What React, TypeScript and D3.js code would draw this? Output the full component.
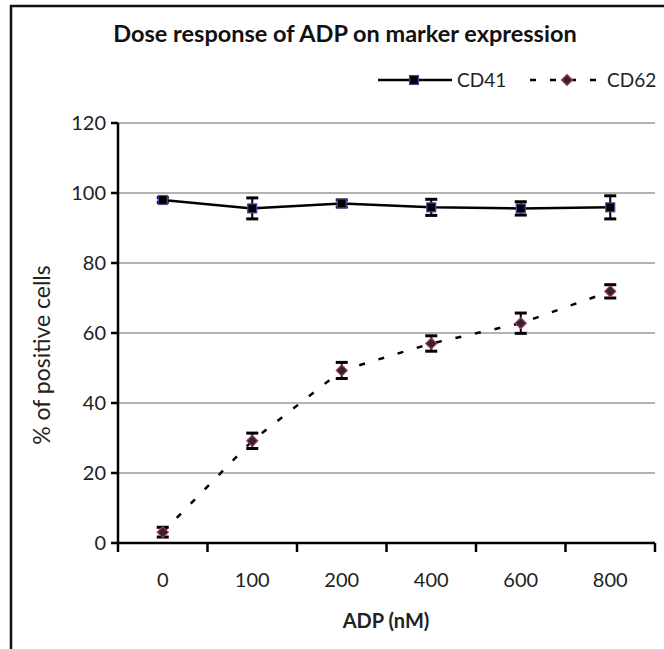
import React from "react";
import * as d3 from "d3";

const categories = ["0", "100", "200", "400", "600", "800"];
const cd41Values = [98.0, 95.6, 97.0, 95.9, 95.6, 95.9];
const cd41Errors = [0.7, 3.0, 1.0, 2.3, 1.9, 3.3];
const cd62Values = [3.1, 29.2, 49.3, 57.0, 62.8, 71.9];
const cd62Errors = [1.4, 2.2, 2.3, 2.2, 2.9, 1.9];
const yTicks = [0, 20, 40, 60, 80, 100, 120];
const title = "Dose response of ADP on marker expression";
const xTitle = "ADP (nM)";
const yTitle = "% of positive cells";
const seriesNames = ["CD41", "CD62"];

const W = 664;
const H = 649;
const FONT = "Lato, 'Open Sans', sans-serif";

export default function App() {
  const x = d3.scaleBand<string>().domain(categories).range([118, 655]).padding(0);
  const y = d3.scaleLinear().domain([0, 120]).range([543, 123]);
  const cx = (c: string) => (x(c) ?? 0) + x.bandwidth() / 2;

  const line = d3
    .line<number>()
    .x((_, i) => cx(categories[i]))
    .y((v) => y(v));

  const errBars = (vals: number[], errs: number[]) =>
    vals.map((v, i) => {
      const px = cx(categories[i]);
      const y1 = y(v + errs[i]);
      const y2 = y(v - errs[i]);
      return (
        <g key={i} stroke="#000">
          <line x1={px} x2={px} y1={y1} y2={y2} strokeWidth={2} />
          <line x1={px - 6} x2={px + 6} y1={y1} y2={y1} strokeWidth={3} />
          <line x1={px - 6} x2={px + 6} y1={y2} y2={y2} strokeWidth={3} />
        </g>
      );
    });

  const square = (px: number, py: number, k: string | number) => (
    <rect key={k} x={px - 4.5} y={py - 4.5} width={9} height={9} fill="#000" stroke="#4a4aa8" strokeWidth={1.2} />
  );
  const diamond = (px: number, py: number, k: string | number) => (
    <path
      key={k}
      d={`M${px},${py - 5.5}L${px + 5.5},${py}L${px},${py + 5.5}L${px - 5.5},${py}Z`}
      fill="#2a2a2a"
      stroke="#b03070"
      strokeWidth={1.2}
    />
  );

  const xTickPositions = [...categories.map((c) => x(c) ?? 0), 655];

  return (
    <svg
      width={W}
      height={H}
      style={{ position: "absolute", left: 0, top: 0, background: "#fff" }}
      fontFamily={FONT}
    >
      {/* frame */}
      <rect x={11} y={6} width={700} height={700} fill="none" stroke="#111" strokeWidth={2.5} />

      <text x={345} y={42} textAnchor="middle" fontSize={23.5} fontWeight="bold" fill="#111">
        {title}
      </text>

      {/* legend */}
      <g>
        <line x1={378} x2={452} y1={80} y2={80} stroke="#000" strokeWidth={2.5} />
        {square(414, 80, "l1")}
        <text x={457} y={87} fontSize={19} fill="#222">
          {seriesNames[0]}
        </text>
        <line x1={530} x2={604} y1={80} y2={80} stroke="#000" strokeWidth={2.5} strokeDasharray="6,14" />
        {diamond(567, 80, "l2")}
        <text x={607} y={87} fontSize={19} fill="#222">
          {seriesNames[1]}
        </text>
      </g>

      {/* gridlines */}
      {yTicks
        .filter((t) => t > 0)
        .map((t) => (
          <line key={t} x1={118} x2={655} y1={y(t)} y2={y(t)} stroke="#9a9a9a" strokeWidth={1.5} />
        ))}

      {/* y axis */}
      <line x1={118} x2={118} y1={y(120)} y2={y(0)} stroke="#000" strokeWidth={2.5} />
      {yTicks.map((t) => (
        <g key={t}>
          <line x1={111} x2={118} y1={y(t)} y2={y(t)} stroke="#000" strokeWidth={2.5} />
          <text x={106} y={y(t)} dy="0.35em" textAnchor="end" fontSize={20} fill="#222">
            {t}
          </text>
        </g>
      ))}

      {/* x axis */}
      <line x1={118} x2={655} y1={y(0)} y2={y(0)} stroke="#000" strokeWidth={2.5} />
      {xTickPositions.map((p, i) => (
        <line key={i} x1={p} x2={p} y1={y(0)} y2={y(0) + 9} stroke="#000" strokeWidth={2.5} />
      ))}
      {categories.map((c) => (
        <text key={c} x={cx(c)} y={580} dy="0.35em" textAnchor="middle" fontSize={20} fill="#222">
          {c}
        </text>
      ))}

      <text x={386} y={621} dy="0.35em" textAnchor="middle" fontSize={20} fontWeight="bold" fill="#222">
        {xTitle}
      </text>
      <text
        transform={`translate(42,${355}) rotate(-90)`}
        textAnchor="middle"
        dy="0.35em"
        fontSize={23}
        fill="#222"
      >
        {yTitle}
      </text>

      {/* series lines */}
      <path d={line(cd62Values) ?? ""} fill="none" stroke="#000" strokeWidth={2.5} strokeDasharray="6,14" />
      <path d={line(cd41Values) ?? ""} fill="none" stroke="#000" strokeWidth={2.5} />

      {errBars(cd41Values, cd41Errors)}
      {errBars(cd62Values, cd62Errors)}

      {cd41Values.map((v, i) => square(cx(categories[i]), y(v), "s" + i))}
      {cd62Values.map((v, i) => diamond(cx(categories[i]), y(v), "d" + i))}
    </svg>
  );
}
